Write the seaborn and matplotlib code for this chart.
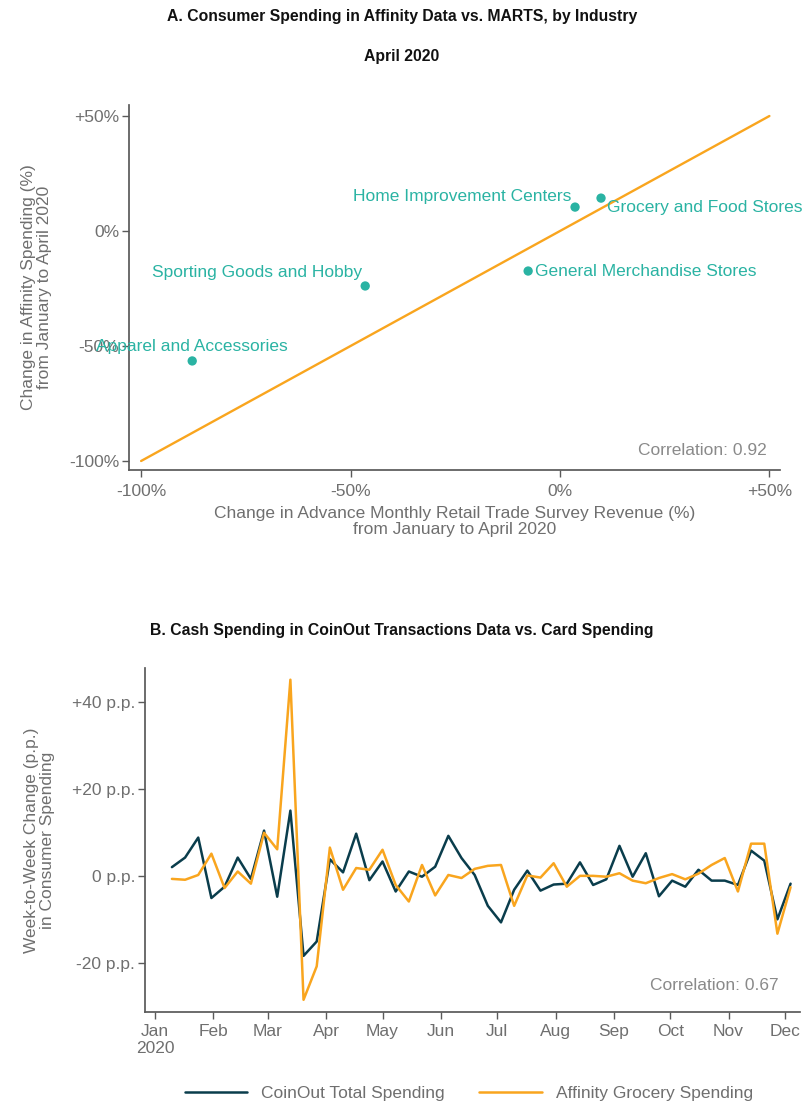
import numpy as np
import pandas as pd
import seaborn as sns
import matplotlib.pyplot as plt
import matplotlib.dates as mdates

# panel A: change Jan -> Apr 2020 (%)
industries = ["Apparel and Accessories", "Sporting Goods and Hobby",
              "General Merchandise Stores", "Home Improvement Centers",
              "Grocery and Food Stores"]
marts_change = [-87.8, -46.5, -7.6, 3.6, 9.8]
affinity_change = [-56.5, -23.9, -17.4, 10.4, 14.3]
diag = [-100, 50]
corr_a = 0.92

# panel B: weekly week-to-week change (p.p.)
weeks = pd.date_range("2020-01-10", periods=48, freq="7D")
coinout = [2.0, 4.2, 8.8, -5.1, -2.5, 4.2, -0.7, 10.4, -4.8, 15.0,
           -18.4, -15.1, 3.8, 0.8, 9.7, -1.0, 3.3, -3.6, 1.0, -0.2,
           2.1, 9.2, 4.1, 0.2, -6.9, -10.7, -3.2, 1.2, -3.4, -2.0,
           -1.8, 3.1, -2.1, -0.8, 6.9, -0.2, 5.2, -4.7, -1.1, -2.5,
           1.4, -1.1, -1.1, -2.1, 5.8, 3.5, -10.0, -1.8]
affinity_grocery = [-0.7, -0.9, 0.2, 5.1, -2.8, 1.0, -1.8, 9.9, 6.1, 45.1,
                    -28.5, -20.8, 6.5, -3.2, 1.8, 1.4, 6.0, -2.1, -5.9, 2.5,
                    -4.5, 0.2, -0.5, 1.6, 2.3, 2.5, -6.9, 0.1, -0.4, 2.9,
                    -2.5, 0.0, 0.0, -0.2, 0.6, -1.1, -1.7, -0.5, 0.4, -0.8,
                    0.5, 2.5, 4.1, -3.6, 7.4, 7.4, -13.3, -2.6]
corr_b = 0.67

TEAL = "#2ab3a3"
ORANGE = "#f9a51e"
NAVY = "#0a3d4c"
GRAY = "#6f6f6f"
SPINE = "#5a5a5a"

sns.set_theme(style="white")
plt.rcParams["font.family"] = ["Liberation Sans", "DejaVu Sans"]
plt.rcParams["axes.edgecolor"] = SPINE
plt.rcParams["xtick.color"] = SPINE
plt.rcParams["ytick.color"] = SPINE
plt.rcParams["xtick.labelcolor"] = GRAY
plt.rcParams["ytick.labelcolor"] = GRAY

fig = plt.figure(figsize=(8.04, 11.05), dpi=100)

# ---------------- panel A ----------------
ax1 = fig.add_axes([0.1604, 0.5747, 0.8096, 0.3303])
sns.lineplot(x=diag, y=diag, ax=ax1, color=ORANGE, lw=1.7)
sns.scatterplot(x=marts_change, y=affinity_change, ax=ax1, color=TEAL,
                s=45, edgecolor="none", zorder=3)

offsets = {
    "Apparel and Accessories": ((0, 5), "center", "bottom"),
    "Sporting Goods and Hobby": ((-2, 4), "right", "bottom"),
    "General Merchandise Stores": ((5, 0), "left", "center"),
    "Home Improvement Centers": ((-3, 2), "right", "bottom"),
    "Grocery and Food Stores": ((4, -1), "left", "top"),
}
for name, xv, yv in zip(industries, marts_change, affinity_change):
    off, ha, va = offsets[name]
    ax1.annotate(name, (xv, yv), xytext=off, textcoords="offset points",
                 ha=ha, va=va, color=TEAL, fontsize=12.5)

ax1.set_xlim(-102.9, 52.5)
ax1.set_ylim(-103.9, 54.8)
ax1.set_xticks([-100, -50, 0, 50])
ax1.set_xticklabels(["-100%", "-50%", "0%", "+50%"])
ax1.set_yticks([-100, -50, 0, 50])
ax1.set_yticklabels(["-100%", "-50%", "0%", "+50%"])
ax1.tick_params(axis="both", which="major", length=5, width=1,
                labelsize=12.5, bottom=True, left=True)
ax1.tick_params(axis="x", pad=5)
ax1.tick_params(axis="y", pad=2)
ax1.set_xlabel("Change in Advance Monthly Retail Trade Survey Revenue (%)\nfrom January to April 2020",
               color=GRAY, fontsize=12.5, linespacing=1.1, labelpad=5)
ax1.set_ylabel("Change in Affinity Spending (%)\nfrom January to April 2020",
               color=GRAY, fontsize=12.5, linespacing=1.1, labelpad=12)
ax1.text(0.98, 0.052, f"Correlation: {corr_a:.2f}", transform=ax1.transAxes,
         ha="right", va="center", color="#8a8a8a", fontsize=12.5)
sns.despine(ax=ax1)

title_kw = dict(ha="center", va="center", fontsize=11.3, fontweight="bold",
                color="#111111")
fig.text(0.5, 1 - 17 / 1105, "A. Consumer Spending in Affinity Data vs. MARTS, by Industry", **title_kw)
fig.text(0.5, 1 - 57 / 1105, "April 2020", **title_kw)

# ---------------- panel B ----------------
ax2 = fig.add_axes([0.1803, 0.0842, 0.8147, 0.3113])
df = pd.DataFrame({
    "week": list(weeks) * 2,
    "value": coinout + affinity_grocery,
    "series": ["CoinOut Total Spending"] * len(coinout)
              + ["Affinity Grocery Spending"] * len(affinity_grocery),
})
sns.lineplot(data=df, x="week", y="value", hue="series", ax=ax2,
             palette={"CoinOut Total Spending": NAVY,
                      "Affinity Grocery Spending": ORANGE},
             lw=1.8)

ax2.set_xlim(pd.Timestamp("2019-12-26 16:00"), pd.Timestamp("2020-12-09"))
ax2.set_ylim(-31.3, 47.8)
ax2.set_yticks([-20, 0, 20, 40])
ax2.set_yticklabels(["-20 p.p.", "0 p.p.", "+20 p.p.", "+40 p.p."])
month_ticks = pd.date_range("2020-01-01", "2020-12-01", freq="MS")
ax2.set_xticks(month_ticks)
ax2.set_xticklabels(["Jan\n2020"] + [d.strftime("%b") for d in month_ticks[1:]],
                    linespacing=1.1)
ax2.tick_params(axis="both", which="major", length=5, width=1,
                labelsize=12.5, bottom=True, left=True)
ax2.tick_params(axis="x", pad=4)
ax2.tick_params(axis="y", pad=2)
ax2.set_xlabel("")
ax2.set_ylabel("Week-to-Week Change (p.p.)\nin Consumer Spending",
               color=GRAY, fontsize=12.5, linespacing=1.1, labelpad=12)
ax2.text(0.968, 0.078, f"Correlation: {corr_b:.2f}", transform=ax2.transAxes,
         ha="right", va="center", color="#8a8a8a", fontsize=12.5)
sns.despine(ax=ax2)

handles, labels = ax2.get_legend_handles_labels()
ax2.legend_.remove()
fig.legend(handles, labels, loc="center", bbox_to_anchor=(0.583, 1 - 1093 / 1105),
           ncol=2, frameon=False, fontsize=12.5, handlelength=3.6,
           columnspacing=2.0, labelcolor=GRAY)

fig.text(0.5, 1 - 631 / 1105, "B. Cash Spending in CoinOut Transactions Data vs. Card Spending", **title_kw)

fig.savefig("out.png", dpi=100)
